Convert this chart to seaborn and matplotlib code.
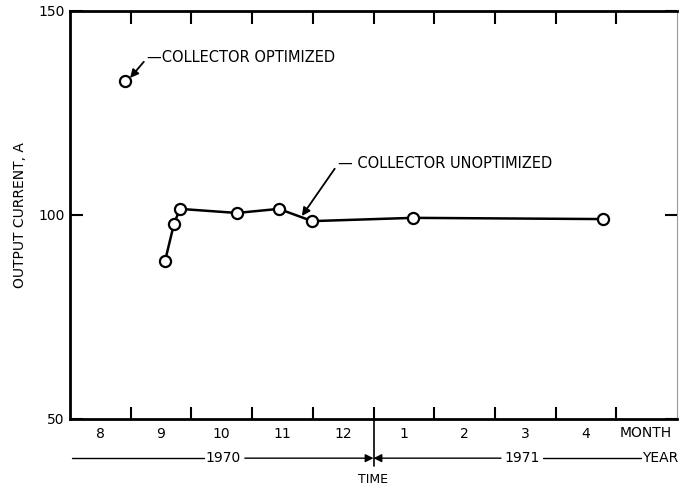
import matplotlib
matplotlib.use("Agg")
import matplotlib.pyplot as plt
import seaborn as sns
import pandas as pd

# continuous month scale: Aug 1970 start = 8, Jan 1971 start = 13
unopt_month = [9.565, 9.713, 9.81, 10.75, 11.44, 11.99, 13.65, 16.78]
unopt_current = [88.7, 97.8, 101.5, 100.5, 101.5, 98.5, 99.3, 99.0]
opt_month = [8.906]
opt_current = [132.8]
month_labels = ["8", "9", "10", "11", "12", "1", "2", "3", "4"]
month_label_pos = [8.5, 9.5, 10.5, 11.5, 12.5, 13.5, 14.5, 15.5, 16.5]
month_bounds = [9, 10, 11, 12, 13, 14, 15, 16, 17]
y_ticks = [50, 100, 150]

sns.set_theme(style="white")
plt.rcParams['font.family'] = ['DejaVu Sans']
plt.rcParams.update({"text.color": "black", "axes.labelcolor": "black",
                     "xtick.color": "black", "ytick.color": "black"})

fig = plt.figure(figsize=(6.79, 4.87), dpi=100)
ax = fig.add_axes([70/679, 1-419/487, 607/679, 408/487])

df_u = pd.DataFrame({"m": unopt_month, "c": unopt_current})
df_o = pd.DataFrame({"m": opt_month, "c": opt_current})
sns.lineplot(data=df_u, x="m", y="c", ax=ax, color="black", lw=1.8,
             marker="o", markersize=8, markerfacecolor="white",
             markeredgecolor="black", markeredgewidth=1.6)
sns.scatterplot(data=df_o, x="m", y="c", ax=ax, s=64, color="white",
                edgecolor="black", linewidth=1.6, zorder=5)

ax.set_xlim(8, 18)
ax.set_ylim(50, 150)
ax.set_xlabel("")
ax.set_ylabel("OUTPUT CURRENT, A", fontsize=10, labelpad=8)

ax.set_xticks(month_bounds)
ax.set_xticklabels([])
ax.set_xticks(month_label_pos, minor=True)
ax.set_xticklabels(month_labels, minor=True, fontsize=10)
ax.tick_params(axis="x", which="major", direction="in", top=True, bottom=True,
               length=9, width=1.5, color="black")
ax.tick_params(axis="x", which="minor", length=0, pad=6)
ax.set_yticks(y_ticks)
ax.set_yticklabels([str(v) for v in y_ticks], fontsize=10)
ax.tick_params(axis="y", direction="in", left=True, right=True, length=9,
               width=1.5, color="black", pad=4)

for s in ["left", "bottom", "top"]:
    ax.spines[s].set_color("black")
    ax.spines[s].set_linewidth(2)
ax.spines["right"].set_color("#999999")
ax.spines["right"].set_linewidth(0.8)

ax.annotate("\u2014COLLECTOR OPTIMIZED", xy=(8.99, 133.6), xytext=(9.27, 138.5),
            ha="left", va="center", fontsize=10.5,
            arrowprops=dict(arrowstyle="-|>", color="black", lw=1.3,
                            relpos=(0, 0.5), shrinkA=0, shrinkB=0,
                            mutation_scale=12))
ax.annotate("\u2014 COLLECTOR UNOPTIMIZED", xy=(11.82, 99.75), xytext=(12.415, 112.5),
            ha="left", va="center", fontsize=10.5,
            arrowprops=dict(arrowstyle="-|>", color="black", lw=1.3,
                            relpos=(0, 0.5), shrinkA=0, shrinkB=0,
                            mutation_scale=12))

tr = ax.get_xaxis_transform()
ax.text(17.05, -0.034, "MONTH", transform=tr, ha="left", va="center",
        fontsize=10, clip_on=False)
yy = -0.096
ax.plot([8.03, 10.2], [yy, yy], transform=tr, color="black", lw=1, clip_on=False)
ax.text(10.52, yy, "1970", transform=tr, ha="center", va="center", fontsize=10)
ax.annotate("", xy=(13, yy), xytext=(10.88, yy), xycoords=tr, textcoords=tr,
            arrowprops=dict(arrowstyle="-|>", color="black", lw=1,
                            shrinkA=0, shrinkB=0, mutation_scale=12))
ax.annotate("", xy=(13, yy), xytext=(15.1, yy), xycoords=tr, textcoords=tr,
            arrowprops=dict(arrowstyle="-|>", color="black", lw=1,
                            shrinkA=0, shrinkB=0, mutation_scale=12))
ax.text(15.45, yy, "1971", transform=tr, ha="center", va="center", fontsize=10)
ax.plot([15.8, 17.4], [yy, yy], transform=tr, color="black", lw=1, clip_on=False)
ax.text(17.42, yy, "YEAR", transform=tr, ha="left", va="center", fontsize=10)
ax.plot([13, 13], [0, -0.115], transform=tr, color="black", lw=1.2, clip_on=False)
ax.text(13, -0.148, "TIME", transform=tr, ha="center", va="center", fontsize=9)

fig.savefig("out.png", dpi=100)
